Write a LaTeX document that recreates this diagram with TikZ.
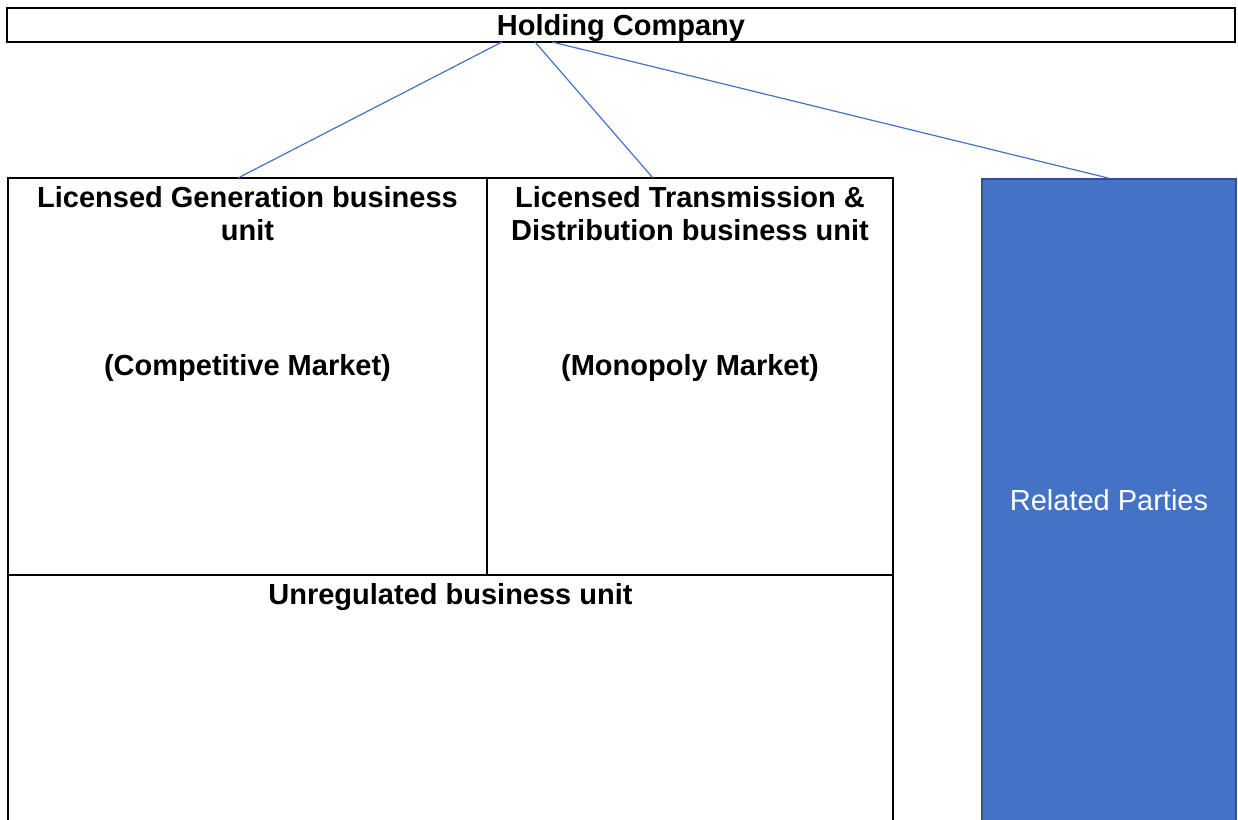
\documentclass[tikz,border=0pt]{standalone}
\usepackage{fontspec}
\setmainfont{Liberation Sans}
\usetikzlibrary{calc, positioning}
\definecolor{officeBlue}{HTML}{4472C4}
\definecolor{officeBlueDark}{HTML}{2F528F}

\begin{document}
\begin{tikzpicture}[x = 1pt, y = 1pt,
		cellBox/.style = {draw, line width = 2pt, inner sep = 0pt, outer sep = 0pt},
		titleText/.style = {font = \fontsize{29}{33}\selectfont\bfseries, align = center, inner sep = 0pt},
		linkLine/.style = {officeBlue, line width = 1.2pt}]
	\useasboundingbox (0,0) rectangle (1238,819);
	\def\cellMid{442.5};
	\def\cellH{397};

	% boxes
	\begin{scope}
		\node [cellBox, titleText, text depth = 0pt, minimum width = 1228, minimum height = 34] (hold) at (621,794) {Holding Company};
		\node [cellBox, minimum width = 479, minimum height = \cellH] (gen) at (247.5,\cellMid) {};
		\node [cellBox, minimum width = 406, minimum height = \cellH] (td) at (690,\cellMid) {};
		\node [cellBox, minimum width = 885, minimum height = 255] (unreg) at (450.5,116.5) {};
		\node [draw = officeBlueDark, fill = officeBlue, line width = 1.5pt, text = white,
			font = \fontsize{29}{33}\selectfont, minimum width = 254, minimum height = 651] (rel) at (1109,314.5) {};
	\end{scope}

	% texts
	\begin{scope}
		\node [titleText, below = 8 of gen.north] (genTitle) {Licensed Generation business\\unit};
		\node [titleText, below = 8 of td.north] (tdTitle) {Licensed Transmission \&\\Distribution business unit};
		\node [titleText] (genMarket) at ($(gen.center)+(0,8)$) {(Competitive Market)};
		\node [titleText] (tdMarket) at ($(td.center)+(0,8)$) {(Monopoly Market)};
		\node [titleText, below = 8 of unreg.north] (unregTitle) {Unregulated business unit};
		\node [text = white, font = \fontsize{29}{33}\selectfont, inner sep = 0pt] (relText) at ($(rel.center)+(0,4)$) {Related Parties};
	\end{scope}

	% links
	\begin{scope}
		\draw [linkLine] ($(hold.south)+(-119,0)$) -- ($(gen.north)+(-9.5,0)$);
		\draw [linkLine] ($(hold.south)+(-86,0)$) -- ($(td.north)+(-37,0)$);
		\draw [linkLine] ($(hold.south)+(-69,0)$) -- (rel.north);
	\end{scope}
\end{tikzpicture}
\end{document}
